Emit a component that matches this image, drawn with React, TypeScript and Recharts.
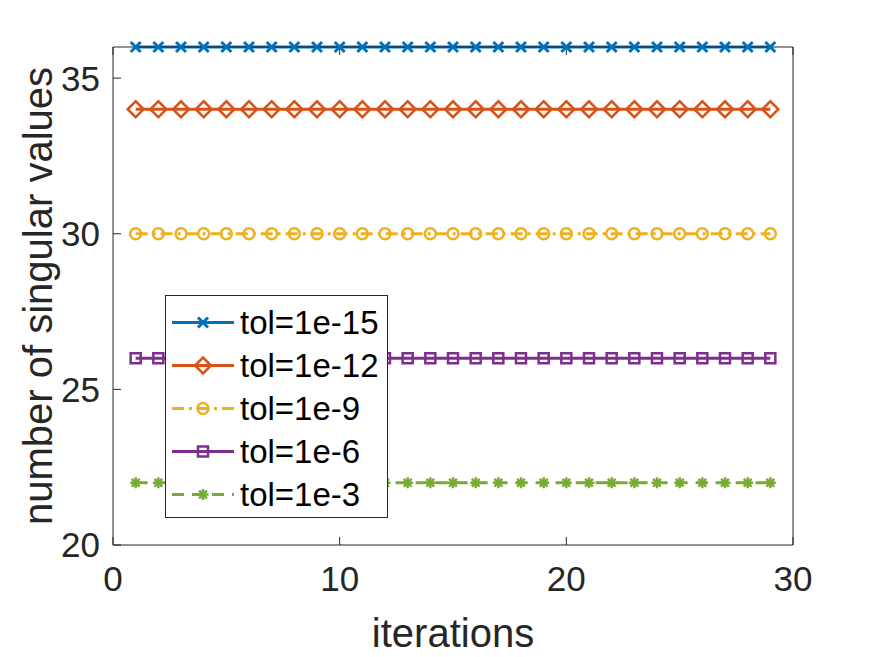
import { Label, Legend, Line, LineChart, XAxis, YAxis } from "recharts";

const FONT = "'Liberation Sans', Arial, Helvetica, sans-serif";
const AXIS_COLOR = "#262626";

const iterations = [
  1, 2, 3, 4, 5, 6, 7, 8, 9, 10, 11, 12, 13, 14, 15, 16, 17, 18, 19, 20, 21,
  22, 23, 24, 25, 26, 27, 28, 29,
];
const tol15 = [
  36, 36, 36, 36, 36, 36, 36, 36, 36, 36, 36, 36, 36, 36, 36, 36, 36, 36, 36,
  36, 36, 36, 36, 36, 36, 36, 36, 36, 36,
];
const tol12 = [
  34, 34, 34, 34, 34, 34, 34, 34, 34, 34, 34, 34, 34, 34, 34, 34, 34, 34, 34,
  34, 34, 34, 34, 34, 34, 34, 34, 34, 34,
];
const tol9 = [
  30, 30, 30, 30, 30, 30, 30, 30, 30, 30, 30, 30, 30, 30, 30, 30, 30, 30, 30,
  30, 30, 30, 30, 30, 30, 30, 30, 30, 30,
];
const tol6 = [
  26, 26, 26, 26, 26, 26, 26, 26, 26, 26, 26, 26, 26, 26, 26, 26, 26, 26, 26,
  26, 26, 26, 26, 26, 26, 26, 26, 26, 26,
];
const tol3 = [
  22, 22, 22, 22, 22, 22, 22, 22, 22, 22, 22, 22, 22, 22, 22, 22, 22, 22, 22,
  22, 22, 22, 22, 22, 22, 22, 22, 22, 22,
];
const xTicks = [0, 10, 20, 30];
const yTicks = [20, 25, 30, 35];

type Shape = "x" | "diamond" | "circle" | "square" | "star";

const SERIES: { key: string; name: string; color: string; dash?: string; shape: Shape }[] = [
  { key: "t15", name: "tol=1e-15", color: "#0072BD", shape: "x" },
  { key: "t12", name: "tol=1e-12", color: "#D95319", shape: "diamond" },
  { key: "t9", name: "tol=1e-9", color: "#EDB120", dash: "12 5 3 5", shape: "circle" },
  { key: "t6", name: "tol=1e-6", color: "#7E2F8E", shape: "square" },
  { key: "t3", name: "tol=1e-3", color: "#77AC30", dash: "12 8", shape: "star" },
];

const data = iterations.map((it, i) => ({
  it,
  t15: tol15[i],
  t12: tol12[i],
  t9: tol9[i],
  t6: tol6[i],
  t3: tol3[i],
}));

const LINE_W = 3;
const MARK_W = 2.5;

function Marker({ shape, cx, cy, color }: { shape: Shape; cx: number; cy: number; color: string }) {
  if (shape === "x") {
    const h = 5;
    return (
      <g stroke={color} strokeWidth={MARK_W + 0.5}>
        <line x1={cx - h} y1={cy - h} x2={cx + h} y2={cy + h} />
        <line x1={cx - h} y1={cy + h} x2={cx + h} y2={cy - h} />
      </g>
    );
  }
  if (shape === "diamond") {
    const h = 8;
    return (
      <polygon
        points={`${cx},${cy - h} ${cx + h},${cy} ${cx},${cy + h} ${cx - h},${cy}`}
        fill="none"
        stroke={color}
        strokeWidth={MARK_W}
      />
    );
  }
  if (shape === "circle") {
    return <circle cx={cx} cy={cy} r={5.5} fill="none" stroke={color} strokeWidth={MARK_W} />;
  }
  if (shape === "square") {
    const h = 5;
    return (
      <rect x={cx - h} y={cy - h} width={2 * h} height={2 * h} fill="none" stroke={color} strokeWidth={MARK_W} />
    );
  }
  // asterisk: plus + cross
  const h = 5.5;
  const d = 3.9;
  return (
    <g stroke={color} strokeWidth={MARK_W}>
      <line x1={cx - h} y1={cy} x2={cx + h} y2={cy} />
      <line x1={cx} y1={cy - h} x2={cx} y2={cy + h} />
      <line x1={cx - d} y1={cy - d} x2={cx + d} y2={cy + d} />
      <line x1={cx - d} y1={cy + d} x2={cx + d} y2={cy - d} />
    </g>
  );
}

function LegendBox() {
  return (
    <div
      style={{
        border: `1px solid ${AXIS_COLOR}`,
        background: "#fff",
        width: 223,
        height: 223,
        boxSizing: "border-box",
        paddingTop: 5,
        fontFamily: FONT,
      }}
    >
      {SERIES.map((s) => (
        <div key={s.key} style={{ display: "flex", alignItems: "center", height: 43 }}>
          <svg width={74} height={43} style={{ flex: "none" }}>
            <line
              x1={6}
              y1={21.5}
              x2={68}
              y2={21.5}
              stroke={s.color}
              strokeWidth={LINE_W}
              strokeDasharray={s.dash}
            />
            <Marker shape={s.shape} cx={37} cy={21.5} color={s.color} />
          </svg>
          <span style={{ fontSize: 33, color: "#000", lineHeight: "43px", whiteSpace: "nowrap" }}>
            {s.name}
          </span>
        </div>
      ))}
    </div>
  );
}

export default function App() {
  return (
    <div style={{ position: "absolute", left: 0, top: 0, width: 875, height: 657, background: "#fff" }}>
      <LineChart
        width={875}
        height={657}
        data={data}
        margin={{ top: 46, right: 81, bottom: 0, left: 0 }}
        style={{ fontFamily: FONT }}
      >
        <XAxis
          xAxisId="bottom"
          dataKey="it"
          type="number"
          domain={[0, 30]}
          ticks={xTicks}
          height={112}
          tickSize={-8}
          tickMargin={29}
          stroke={AXIS_COLOR}
          tick={{ fontSize: 35, fill: AXIS_COLOR }}
        >
          <Label
            value="iterations"
            position="insideBottom"
            offset={10}
            style={{ fontSize: 40, fill: AXIS_COLOR }}
          />
        </XAxis>
        <XAxis
          xAxisId="top"
          orientation="top"
          dataKey="it"
          type="number"
          domain={[0, 30]}
          ticks={xTicks}
          height={1}
          tickSize={-8}
          tickFormatter={() => ""}
          stroke={AXIS_COLOR}
        />
        <YAxis
          yAxisId="left"
          type="number"
          domain={[20, 36]}
          ticks={yTicks}
          width={113}
          tickSize={-8}
          tickMargin={21}
          stroke={AXIS_COLOR}
          tick={{ fontSize: 35, fill: AXIS_COLOR }}
        >
          <Label
            value="number of singular values"
            angle={-90}
            position="insideLeft"
            offset={38}
            style={{ fontSize: 40, fill: AXIS_COLOR, textAnchor: "middle" }}
          />
        </YAxis>
        <YAxis
          yAxisId="right"
          orientation="right"
          type="number"
          domain={[20, 36]}
          ticks={yTicks}
          width={1}
          tickSize={-8}
          tickFormatter={() => ""}
          stroke={AXIS_COLOR}
        />
        {SERIES.map((s) => (
          <Line
            key={s.key}
            xAxisId="bottom"
            yAxisId="left"
            dataKey={s.key}
            name={s.name}
            stroke={s.color}
            strokeWidth={LINE_W}
            strokeDasharray={s.dash}
            isAnimationActive={false}
            activeDot={false}
            dot={(p: any) => (
              <Marker key={`${s.key}-${p.index}`} shape={s.shape} cx={p.cx} cy={p.cy} color={s.color} />
            )}
          />
        ))}
        <Legend
          layout="vertical"
          align="center"
          verticalAlign="middle"
          wrapperStyle={{ left: 165, top: 295, width: 223, height: 223 }}
          content={() => <LegendBox />}
        />
      </LineChart>
    </div>
  );
}
